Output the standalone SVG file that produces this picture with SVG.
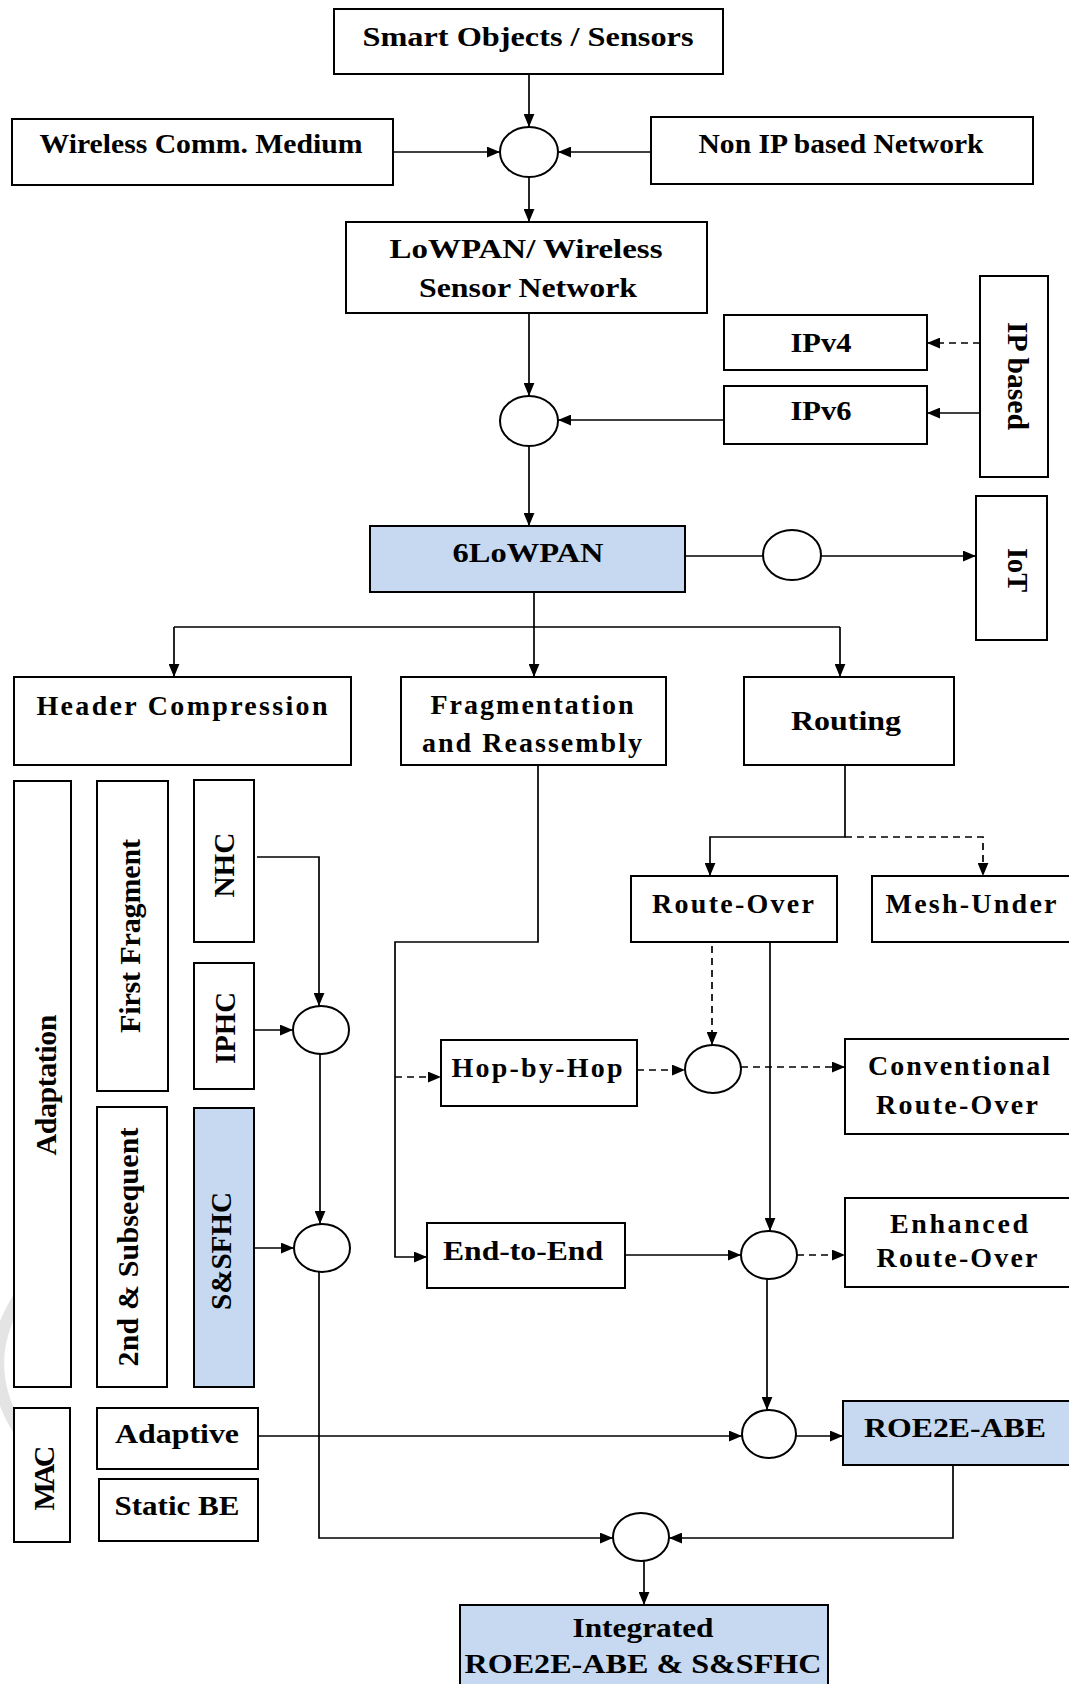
<svg xmlns="http://www.w3.org/2000/svg" width="1069" height="1684" viewBox="0 0 1069 1684">
<style>
.b{fill:#fff;stroke:#000;stroke-width:2}
.bl{fill:#c6d9f1;stroke:#000;stroke-width:2}
.c{fill:#fff;stroke:#000;stroke-width:2}
.t{font-family:"Liberation Serif","Times New Roman",serif;font-weight:bold;font-size:28px;fill:#000;text-anchor:middle}
.r{font-size:30px}
.ln{fill:none;stroke:#000;stroke-width:1.7}
.dl{fill:none;stroke:#000;stroke-width:1.7;stroke-dasharray:7 5}
.a{marker-end:url(#ah)}
</style>
<defs>
<marker id="ah" viewBox="0 0 12 10" refX="12" refY="5" markerWidth="13" markerHeight="11" markerUnits="userSpaceOnUse" orient="auto">
<path d="M0,0 L12,5 L0,10 z" fill="#000"/>
</marker>
</defs>
<rect width="1069" height="1684" fill="#fff"/>
<path d="M24,1290 Q-28,1363 24,1438" fill="none" stroke="#e4e4e4" stroke-width="12"/>

<g id="connectors">
<path class="ln a" d="M529,74 V127"/>
<path class="ln a" d="M393,152 H500"/>
<path class="ln a" d="M651,152 H558"/>
<path class="ln a" d="M529,177 V222"/>
<path class="ln a" d="M529,313 V396"/>
<path class="ln a" d="M724,420 H558"/>
<path class="ln a" d="M529,446 V526"/>
<path class="dl a" d="M980,343 H927"/>
<path class="ln a" d="M980,413 H927"/>
<path class="ln" d="M685,556 H763"/>
<path class="ln a" d="M821,556 H976"/>
<path class="ln" d="M534,592 V627 M174,627 H840"/>
<path class="ln a" d="M174,627 V677"/>
<path class="ln a" d="M534,627 V677"/>
<path class="ln a" d="M840,627 V677"/>
<path class="ln a" d="M538,765 V942 H395 V1257 H427"/>
<path class="dl a" d="M395,1077 H441"/>
<path class="ln a" d="M845,765 V837 H710 V876"/>
<path class="dl a" d="M845,837 H983 V876"/>
<path class="dl a" d="M712,946 V1045"/>
<path class="ln a" d="M770,942 V1231"/>
<path class="dl a" d="M637,1070 H685"/>
<path class="dl a" d="M741,1067 H845"/>
<path class="ln a" d="M257,857 H319 V1006"/>
<path class="ln a" d="M254,1030 H293"/>
<path class="ln a" d="M320,1054 V1224"/>
<path class="ln a" d="M254,1248 H294"/>
<path class="ln a" d="M319,1272 V1538 H613"/>
<path class="ln a" d="M625,1255 H741"/>
<path class="dl a" d="M797,1255 H845"/>
<path class="ln a" d="M767,1279 V1410"/>
<path class="ln a" d="M258,1436 H742"/>
<path class="ln a" d="M796,1436 H843"/>
<path class="ln a" d="M953,1465 V1538 H669"/>
<path class="ln a" d="M644,1561 V1605"/>
</g>

<g id="smart-objects"><rect class="b" x="334" y="9" width="389" height="65"/><text class="t" x="528" y="46" textLength="331" lengthAdjust="spacingAndGlyphs">Smart Objects / Sensors</text></g>
<g id="wireless-comm"><rect class="b" x="12" y="119" width="381" height="66"/><text class="t" x="201" y="153" textLength="323" lengthAdjust="spacingAndGlyphs">Wireless Comm. Medium</text></g>
<g id="junction-1"><ellipse class="c" cx="529" cy="152" rx="29" ry="25"/></g>
<g id="non-ip"><rect class="b" x="651" y="117" width="382" height="67"/><text class="t" x="841" y="153" textLength="285" lengthAdjust="spacingAndGlyphs">Non IP based Network</text></g>
<g id="lowpan-wsn"><rect class="b" x="346" y="222" width="361" height="91"/><text class="t" x="526" y="258" textLength="273" lengthAdjust="spacingAndGlyphs">LoWPAN/ Wireless</text><text class="t" x="528" y="297" textLength="218" lengthAdjust="spacingAndGlyphs">Sensor Network</text></g>
<g id="ipv4"><rect class="b" x="724" y="315" width="203" height="55"/><text class="t" x="821" y="352" textLength="61" lengthAdjust="spacingAndGlyphs">IPv4</text></g>
<g id="ipv6"><rect class="b" x="724" y="386" width="203" height="58"/><text class="t" x="821" y="420" textLength="61" lengthAdjust="spacingAndGlyphs">IPv6</text></g>
<g id="ip-based"><rect class="b" x="980" y="276" width="68" height="201"/><text class="t r" transform="translate(1008,376) rotate(90)" textLength="108" lengthAdjust="spacingAndGlyphs">IP based</text></g>
<g id="junction-2"><ellipse class="c" cx="529" cy="421" rx="29" ry="25"/></g>
<g id="sixlowpan"><rect class="bl" x="370" y="526" width="315" height="66"/><text class="t" x="528" y="562" textLength="151" lengthAdjust="spacingAndGlyphs">6LoWPAN</text></g>
<g id="junction-3"><ellipse class="c" cx="792" cy="555" rx="29" ry="25"/></g>
<g id="iot"><rect class="b" x="976" y="496" width="71" height="144"/><text class="t r" transform="translate(1008,570) rotate(90)" textLength="44" lengthAdjust="spacingAndGlyphs">IoT</text></g>
<g id="header-compression"><rect class="b" x="14" y="677" width="337" height="88"/><text class="t" x="182" y="715" textLength="291" lengthAdjust="spacing">Header Compression</text></g>
<g id="fragmentation"><rect class="b" x="401" y="677" width="265" height="88"/><text class="t" x="532" y="714" textLength="203" lengthAdjust="spacing">Fragmentation</text><text class="t" x="532" y="752" textLength="220" lengthAdjust="spacing">and Reassembly</text></g>
<g id="routing"><rect class="b" x="744" y="677" width="210" height="88"/><text class="t" x="846" y="730" textLength="110" lengthAdjust="spacingAndGlyphs">Routing</text></g>
<g id="adaptation"><rect class="b" x="14" y="781" width="57" height="606"/><text class="t r" transform="translate(56,1085) rotate(-90)" textLength="141" lengthAdjust="spacing">Adaptation</text></g>
<g id="first-fragment"><rect class="b" x="97" y="781" width="71" height="310"/><text class="t r" transform="translate(140,936) rotate(-90)" textLength="194" lengthAdjust="spacing">First Fragment</text></g>
<g id="nhc"><rect class="b" x="194" y="780" width="60" height="162"/><text class="t r" transform="translate(234,865) rotate(-90)" textLength="65" lengthAdjust="spacingAndGlyphs">NHC</text></g>
<g id="iphc"><rect class="b" x="194" y="963" width="60" height="126"/><text class="t r" transform="translate(235,1028) rotate(-90)" textLength="72" lengthAdjust="spacingAndGlyphs">IPHC</text></g>
<g id="second-subsequent"><rect class="b" x="97" y="1107" width="70" height="280"/><text class="t r" transform="translate(138,1247) rotate(-90)" textLength="239" lengthAdjust="spacing">2nd &amp; Subsequent</text></g>
<g id="ssfhc"><rect class="bl" x="194" y="1108" width="60" height="279"/><text class="t r" transform="translate(231,1251) rotate(-90)" textLength="118" lengthAdjust="spacingAndGlyphs">S&amp;SFHC</text></g>
<g id="mac"><rect class="b" x="14" y="1408" width="56" height="134"/><text class="t r" transform="translate(54,1478) rotate(-90)" textLength="65" lengthAdjust="spacing">MAC</text></g>
<g id="adaptive"><rect class="b" x="97" y="1408" width="161" height="61"/><text class="t" x="177" y="1443" textLength="124" lengthAdjust="spacingAndGlyphs">Adaptive</text></g>
<g id="static-be"><rect class="b" x="99" y="1479" width="159" height="62"/><text class="t" x="177" y="1515" textLength="125" lengthAdjust="spacingAndGlyphs">Static BE</text></g>
<g id="junction-a"><ellipse class="c" cx="321" cy="1030" rx="28" ry="24"/></g>
<g id="junction-b"><ellipse class="c" cx="322" cy="1248" rx="28" ry="24"/></g>
<g id="route-over"><rect class="b" x="631" y="876" width="206" height="66"/><text class="t" x="733" y="913" textLength="162" lengthAdjust="spacing">Route-Over</text></g>
<g id="mesh-under"><rect class="b" x="872" y="876" width="205" height="66"/><text class="t" x="971" y="913" textLength="171" lengthAdjust="spacing">Mesh-Under</text></g>
<g id="hop-by-hop"><rect class="b" x="441" y="1040" width="196" height="66"/><text class="t" x="537" y="1077" textLength="171" lengthAdjust="spacing">Hop-by-Hop</text></g>
<g id="junction-h"><ellipse class="c" cx="713" cy="1069" rx="28" ry="24"/></g>
<g id="conventional"><rect class="b" x="845" y="1039" width="232" height="95"/><text class="t" x="959" y="1075" textLength="182" lengthAdjust="spacing">Conventional</text><text class="t" x="957" y="1114" textLength="162" lengthAdjust="spacing">Route-Over</text></g>
<g id="end-to-end"><rect class="b" x="427" y="1223" width="198" height="65"/><text class="t" x="523" y="1260" textLength="160" lengthAdjust="spacingAndGlyphs">End-to-End</text></g>
<g id="junction-c"><ellipse class="c" cx="769" cy="1255" rx="28" ry="24"/></g>
<g id="enhanced"><rect class="b" x="845" y="1198" width="232" height="89"/><text class="t" x="959" y="1233" textLength="138" lengthAdjust="spacing">Enhanced</text><text class="t" x="957" y="1267" textLength="161" lengthAdjust="spacing">Route-Over</text></g>
<g id="junction-d"><ellipse class="c" cx="769" cy="1434" rx="27" ry="24"/></g>
<g id="roe2e-abe"><rect class="bl" x="843" y="1401" width="234" height="64"/><text class="t" x="955" y="1437" textLength="182" lengthAdjust="spacingAndGlyphs">ROE2E-ABE</text></g>
<g id="junction-e"><ellipse class="c" cx="641" cy="1537" rx="28" ry="24"/></g>
<g id="integrated"><rect class="bl" x="460" y="1605" width="368" height="84"/><text class="t" x="643" y="1637" textLength="141" lengthAdjust="spacingAndGlyphs">Integrated</text><text class="t" x="643" y="1673" textLength="357" lengthAdjust="spacingAndGlyphs">ROE2E-ABE &amp; S&amp;SFHC</text></g>
</svg>
